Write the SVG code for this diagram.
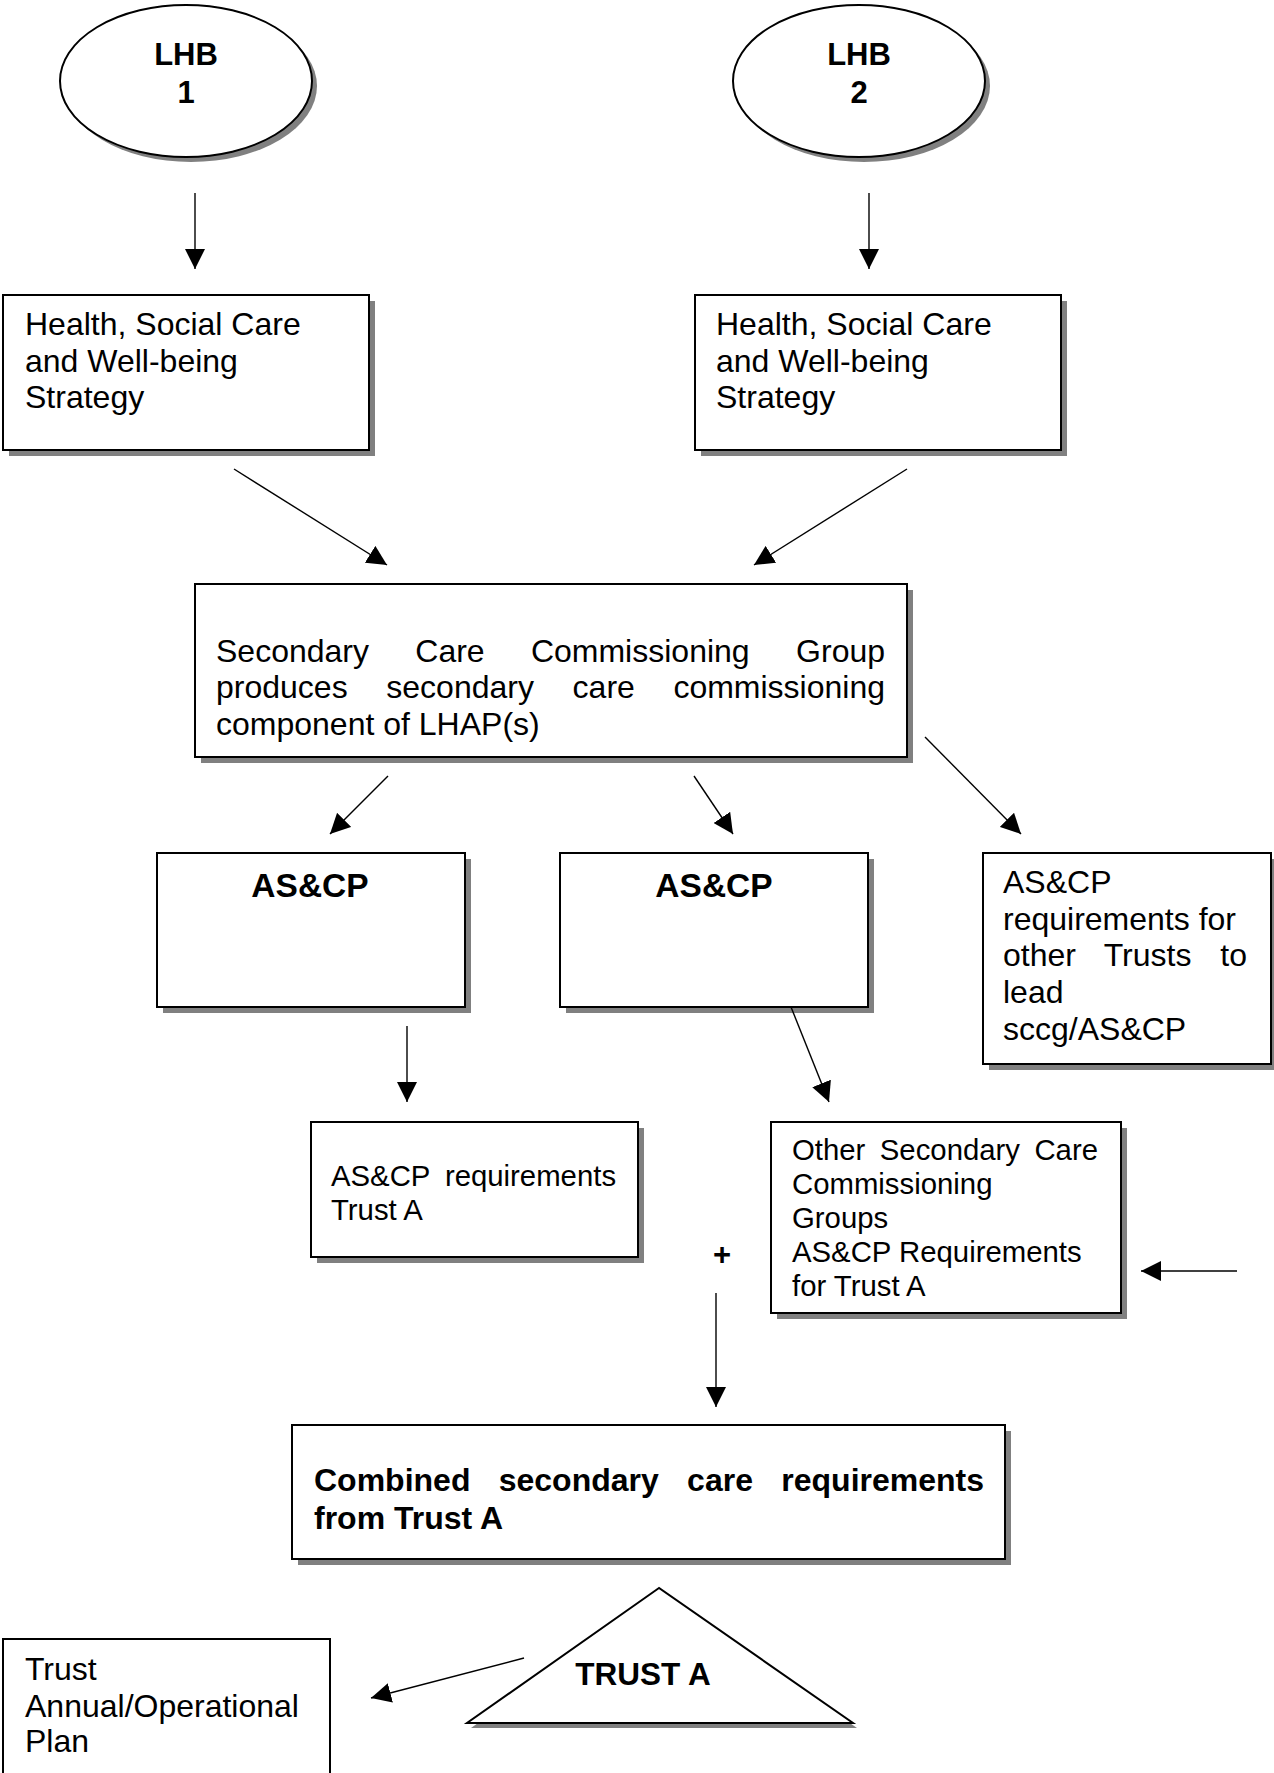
<svg xmlns="http://www.w3.org/2000/svg" width="1274" height="1773" viewBox="0 0 1274 1773">
<style>
  .box{fill:#fff;stroke:#000;stroke-width:2}
  .sh{fill:#808080;stroke:none}
  .t{font-family:"Liberation Sans",Arial,sans-serif;font-size:32px;fill:#000}
  .s{font-family:"Liberation Sans",Arial,sans-serif;font-size:29.33px;fill:#000}
  .b{font-family:"Liberation Sans",Arial,sans-serif;font-weight:bold;fill:#000}
  .c{stroke:#000;stroke-width:1.4;fill:none;marker-end:url(#ah)}
</style>
<defs>
  <marker id="ah" viewBox="0 0 20 20" refX="20" refY="10" markerWidth="20" markerHeight="20" markerUnits="userSpaceOnUse" orient="auto">
    <path d="M0,0 L20,10 L0,20 z" fill="#000"/>
  </marker>
</defs>
<rect width="1274" height="1773" fill="#fff"/>

<g id="lhb1">
  <ellipse class="sh" cx="191" cy="86" rx="126" ry="76"/>
  <ellipse class="box" cx="186" cy="81" rx="126" ry="76"/>
  <text class="b" font-size="31" x="186" y="65" text-anchor="middle">LHB</text>
  <text class="b" font-size="31" x="186" y="103" text-anchor="middle">1</text>
</g>
<g id="lhb2">
  <ellipse class="sh" cx="864" cy="86" rx="126" ry="76"/>
  <ellipse class="box" cx="859" cy="81" rx="126" ry="76"/>
  <text class="b" font-size="31" x="859" y="65" text-anchor="middle">LHB</text>
  <text class="b" font-size="31" x="859" y="103" text-anchor="middle">2</text>
</g>

<g id="hsc1">
  <rect class="sh" x="9" y="301" width="366" height="155"/>
  <rect class="box" x="3" y="295" width="366" height="155"/>
  <text class="t"><tspan x="25" y="335">Health, Social Care</tspan><tspan x="25" y="372">and Well-being</tspan><tspan x="25" y="408">Strategy</tspan></text>
</g>
<g id="hsc2">
  <rect class="sh" x="701" y="301" width="366" height="155"/>
  <rect class="box" x="695" y="295" width="366" height="155"/>
  <text class="t"><tspan x="716" y="335">Health, Social Care</tspan><tspan x="716" y="372">and Well-being</tspan><tspan x="716" y="408">Strategy</tspan></text>
</g>

<g id="sccg">
  <rect class="sh" x="201" y="590" width="712" height="173"/>
  <rect class="box" x="195" y="584" width="712" height="173"/>
  <text class="t"><tspan x="216" y="662">Secondary</tspan><tspan x="415.3" y="662">Care</tspan><tspan x="530.9" y="662">Commissioning</tspan><tspan x="796.1" y="662">Group</tspan></text>
  <text class="t"><tspan x="216" y="698">produces</tspan><tspan x="386.3" y="698">secondary</tspan><tspan x="572.6" y="698">care</tspan><tspan x="673.4" y="698">commissioning</tspan></text>
  <text class="t" x="216" y="735">component of LHAP(s)</text>
</g>

<g id="ascp1">
  <rect class="sh" x="163" y="859" width="308" height="154"/>
  <rect class="box" x="157" y="853" width="308" height="154"/>
  <text class="b" font-size="33.5" x="310" y="897" text-anchor="middle">AS&amp;CP</text>
</g>
<g id="ascp2">
  <rect class="sh" x="566" y="859" width="308" height="154"/>
  <rect class="box" x="560" y="853" width="308" height="154"/>
  <text class="b" font-size="33.5" x="714" y="897" text-anchor="middle">AS&amp;CP</text>
</g>

<g id="other-trusts">
  <rect class="sh" x="989" y="859" width="288" height="211"/>
  <rect class="box" x="983" y="853" width="288" height="211"/>
  <text class="t"><tspan x="1003" y="893">AS&amp;CP</tspan><tspan x="1003" y="930">requirements for</tspan></text>
  <text class="t"><tspan x="1003" y="966">other</tspan><tspan x="1103.7" y="966">Trusts</tspan><tspan x="1220.3" y="966">to</tspan></text>
  <text class="t"><tspan x="1003" y="1003">lead</tspan><tspan x="1003" y="1040">sccg/AS&amp;CP</tspan></text>
</g>

<g id="req-trust-a">
  <rect class="sh" x="317" y="1128" width="327" height="135"/>
  <rect class="box" x="311" y="1122" width="327" height="135"/>
  <text class="s"><tspan x="331" y="1186">AS&amp;CP</tspan><tspan x="444.9" y="1186">requirements</tspan><tspan x="331" y="1220">Trust A</tspan></text>
</g>

<g id="other-sccg">
  <rect class="sh" x="777" y="1128" width="350" height="191"/>
  <rect class="box" x="771" y="1122" width="350" height="191"/>
  <text class="s"><tspan x="792" y="1160">Other</tspan><tspan x="879.8" y="1160">Secondary</tspan><tspan x="1034.4" y="1160">Care</tspan></text>
  <text class="s"><tspan x="792" y="1194">Commissioning</tspan><tspan x="792" y="1228">Groups</tspan><tspan x="792" y="1262">AS&amp;CP Requirements</tspan><tspan x="792" y="1296">for Trust A</tspan></text>
</g>

<g id="plus">
  <text class="b" font-size="31" x="722" y="1265" text-anchor="middle">+</text>
</g>

<g id="combined">
  <rect class="sh" x="298" y="1431" width="713" height="134"/>
  <rect class="box" x="292" y="1425" width="713" height="134"/>
  <text class="b" font-size="32"><tspan x="314" y="1491">Combined</tspan><tspan x="498.7" y="1491">secondary</tspan><tspan x="687.1" y="1491">care</tspan><tspan x="781.3" y="1491">requirements</tspan><tspan x="314" y="1529">from Trust A</tspan></text>
</g>

<g id="trust-a">
  <polygon class="sh" points="663,1593 471,1728 857,1728"/>
  <polygon class="box" points="659,1588 467,1723 853,1723"/>
  <text class="b" font-size="31.5" x="643" y="1685" text-anchor="middle">TRUST A</text>
</g>

<g id="trust-plan">
  <rect class="box" x="3" y="1639" width="327" height="160"/>
  <text class="t"><tspan x="25" y="1680">Trust</tspan><tspan x="25" y="1717">Annual/Operational</tspan><tspan x="25" y="1752">Plan</tspan></text>
</g>

<g id="connectors">
  <line class="c" x1="195" y1="193" x2="195" y2="269"/>
  <line class="c" x1="869" y1="193" x2="869" y2="269"/>
  <line class="c" x1="234" y1="469" x2="387" y2="565"/>
  <line class="c" x1="907" y1="469" x2="754" y2="565"/>
  <line class="c" x1="388" y1="776" x2="330" y2="834"/>
  <line class="c" x1="694" y1="776" x2="733" y2="834"/>
  <line class="c" x1="925" y1="737" x2="1021" y2="834"/>
  <line class="c" x1="407" y1="1026" x2="407" y2="1102"/>
  <line class="c" x1="791" y1="1007" x2="829" y2="1102"/>
  <line class="c" x1="1237" y1="1271" x2="1141" y2="1271"/>
  <line class="c" x1="716" y1="1293" x2="716" y2="1407"/>
  <line class="c" x1="524" y1="1658" x2="371" y2="1698"/>
</g>
</svg>
